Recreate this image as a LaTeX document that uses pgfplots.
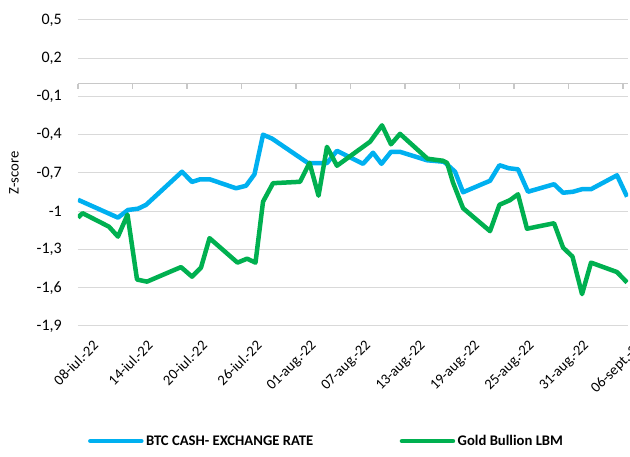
\documentclass[border=0pt]{standalone}
\usepackage{fontspec}
\setmainfont{Carlito}
\usepackage{pgfplots}
\pgfplotsset{compat=1.18}
\definecolor{btcblue}{HTML}{00B0F0}
\definecolor{goldgreen}{HTML}{00B050}
\definecolor{gridgray}{HTML}{D9D9D9}
\definecolor{axisgray}{HTML}{C8C8C8}
\begin{document}
\begin{tikzpicture}
\useasboundingbox (-78pt,-131pt) rectangle (552pt,326pt);
\begin{axis}[at={(0,0)}, anchor=south west, scale only axis, width=550pt, height=306pt,
  xmin=0, xmax=60.55, ymin=-1.9, ymax=0.5,
  axis line style={draw=none},
  tick style={draw=none},
  ymajorgrids, major grid style={draw=gridgray, line width=1pt},
  ytick={-1.9,-1.6,-1.3,-1,-0.7,-0.4,-0.1,0.2,0.5},
  yticklabels={{-1,9},{-1,6},{-1,3},{-1},{-0,7},{-0,4},{-0,1},{0,2},{0,5}},
  yticklabel style={font=\fontsize{16}{19}\selectfont, anchor=east, inner sep=0pt, xshift=-16pt},
  xtick={0,6,12,18,24,30,36,42,48,54,60},
  xticklabels={08-iul.-22,14-iul.-22,20-iul.-22,26-iul.-22,01-aug.-22,07-aug.-22,13-aug.-22,19-aug.-22,25-aug.-22,31-aug.-22,06-sept.-22},
  xticklabel style={font=\fontsize{14.67}{17}\selectfont, xshift=14pt, yshift=-13pt, rotate=45, anchor=north east, inner sep=0pt},
  ylabel={Z-score},
  ylabel style={font=\fontsize{14.67}{17}\selectfont, at={(axis description cs:-0.1164,0.5)}, anchor=center, inner sep=0pt},
  legend columns=2,
  legend style={at={(axis description cs:0.018,-0.376)}, anchor=west, draw=none, fill=none, inner sep=0pt,
    font=\bfseries\fontsize{14.67}{17}\selectfont,
    /tikz/every even column/.append style={column sep=84pt},
    nodes={inner sep=2.5pt}},
  legend image code/.code={\draw[#1, line width=4.5pt, line cap=round] (0pt,0pt) -- (51pt,0pt);},
  every axis plot/.append style={line width=4.5pt, line join=round, mark=none}]
\addplot[btcblue] coordinates {
(0.00,-0.910) (4.40,-1.050) (5.50,-0.990) (6.61,-0.980) (7.49,-0.950)
(11.45,-0.690) (12.55,-0.770) (13.43,-0.750) (14.53,-0.750) (17.40,-0.820)
(18.50,-0.800) (19.43,-0.710) (20.37,-0.400) (21.36,-0.430) (25.32,-0.622)
(27.41,-0.622) (28.51,-0.526) (31.38,-0.628) (32.48,-0.541) (33.41,-0.628)
(34.46,-0.534) (35.45,-0.534) (38.42,-0.600) (40.30,-0.612) (41.51,-0.690)
(42.39,-0.851) (45.36,-0.761) (46.40,-0.639) (47.45,-0.663) (48.44,-0.671)
(49.54,-0.847) (52.41,-0.788) (53.40,-0.855) (54.50,-0.847) (55.49,-0.827)
(56.48,-0.827) (59.34,-0.718) (60.45,-0.886)
};
\addlegendentry{BTC CASH- EXCHANGE RATE}
\addplot[goldgreen] coordinates {
(0.00,-1.050) (0.50,-1.015) (3.41,-1.121) (4.40,-1.199) (5.45,-1.027)
(6.50,-1.536) (7.60,-1.552) (11.34,-1.438) (12.55,-1.513) (13.54,-1.442)
(14.48,-1.211) (17.56,-1.403) (18.61,-1.372) (19.54,-1.403) (20.37,-0.925)
(21.47,-0.780) (24.44,-0.769) (25.49,-0.620) (26.48,-0.878) (27.41,-0.495)
(28.51,-0.643) (32.15,-0.455) (33.47,-0.326) (34.46,-0.475) (35.45,-0.393)
(38.48,-0.588) (40.18,-0.604) (40.63,-0.620) (41.29,-0.776) (42.39,-0.976)
(45.36,-1.156) (46.40,-0.949) (47.56,-0.913) (48.44,-0.867) (49.43,-1.137)
(52.41,-1.094) (53.40,-1.285) (54.44,-1.356) (55.49,-1.650) (56.48,-1.403)
(59.34,-1.477) (60.45,-1.559)
};
\addlegendentry{Gold Bullion LBM}
\end{axis}
% horizontal axis line at zero with outward tick marks
\draw[axisgray, line width=1.3pt] (0pt,242.25pt) -- (550pt,242.25pt);
\foreach \k in {0,...,10} {
  \draw[axisgray, line width=1.3pt] (\k*54.5pt,242.25pt) -- ++(0pt,-5pt);
}
\end{tikzpicture}
\end{document}
